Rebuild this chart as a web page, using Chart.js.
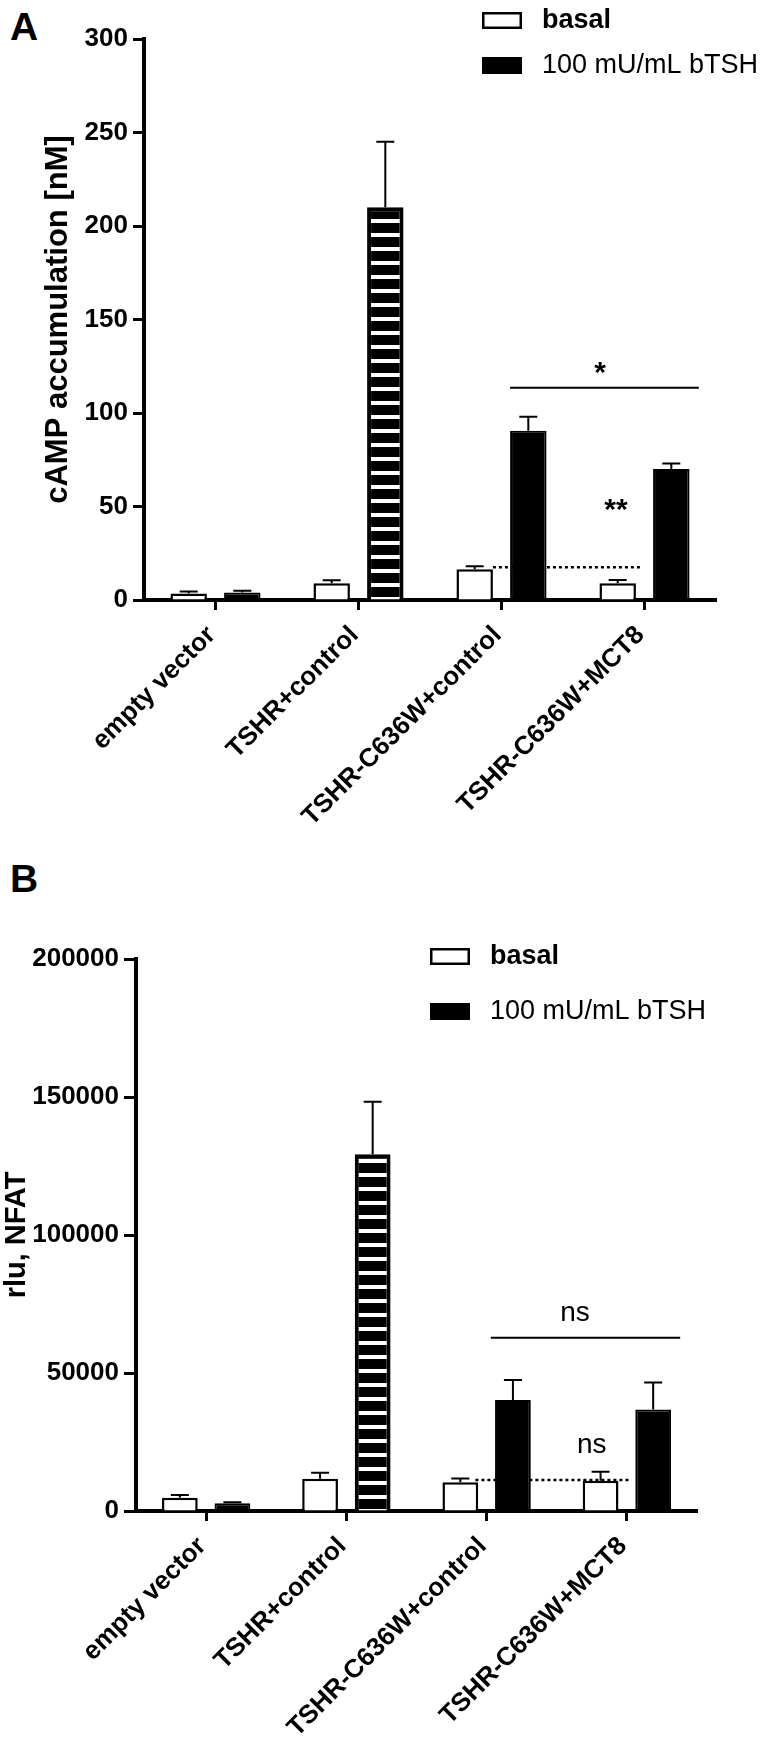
<!DOCTYPE html>
<html><head><meta charset="utf-8">
<script src="https://cdn.jsdelivr.net/npm/chart.js@4.4.0/dist/chart.umd.min.js"></script>
<style>
html,body{margin:0;padding:0;background:#fff;}
body{width:774px;height:1741px;position:relative;overflow:hidden;font-family:"Liberation Sans",Arial,Helvetica,sans-serif;}
canvas{position:absolute;left:0;}
.pl{position:absolute;left:10px;font:bold 39px/39px "Liberation Sans",Arial,sans-serif;color:#000;}
</style></head><body>
<div class="pl" style="top:7px">A</div>
<div class="pl" style="top:859px">B</div>
<canvas id="cA" width="774" height="860" style="top:0"></canvas>
<canvas id="cB" width="774" height="871" style="top:870px"></canvas>
<script>
// ---------- data ----------
const categories = ['empty vector', 'TSHR+control', 'TSHR-C636W+control', 'TSHR-C636W+MCT8'];
const seriesNames = ['basal', '100 mU/mL bTSH'];

// Panel A: cAMP accumulation [nM]
const campBasal = [3.5, 9, 16.5, 9];
const campBasalErr = [1, 1.5, 1.5, 1.7];
const campTSH = [4, 210, 90.5, 70];
const campTSHErr = [1, 35, 7.5, 3];
const campTicks = [0, 50, 100, 150, 200, 250, 300];
const campSigLine = [2.06, 3.38, 113.5];          // x from, x to (category index), y value
const campBaseLine = [1.94, 2.97, 17.5];
const campSigText = [['*', 2.69, 124], ['**', 2.80, 51]];

// Panel B: rlu, NFAT
const nfatBasal = [4800, 11700, 10400, 11000];
const nfatBasalErr = [1000, 2200, 1400, 3200];
const nfatTSH = [2800, 129300, 40200, 36800];
const nfatTSHErr = [400, 19000, 7300, 9800];
const nfatTicks = [0, 50000, 100000, 150000, 200000];
const nfatSigLine = [2.03, 3.38, 62800];
const nfatBaseLine = [1.92, 3.03, 11200];
const nfatSigText = [['ns', 2.63, 71700], ['ns', 2.75, 23900]];

// ---------- rendering ----------
const FAM = '"Liberation Sans", Arial, Helvetica, sans-serif';
Chart.defaults.font.family = FAM;
Chart.defaults.color = '#000';

function stripePattern() {
  const c = document.createElement('canvas');
  c.width = 8; c.height = 14;
  const g = c.getContext('2d');
  g.fillStyle = '#000'; g.fillRect(0, 0, 8, 14);
  g.fillStyle = '#fff'; g.fillRect(0, 9, 8, 4);
  return g.createPattern(c, 'repeat');
}

const overlay = {
  id: 'overlay',
  afterDatasetsDraw(chart, args, o) {
    const ctx = chart.ctx, xs = chart.scales.x, ys = chart.scales.y;
    ctx.save();
    ctx.strokeStyle = '#000';
    // error bars (upper only)
    chart.data.datasets.forEach((ds, i) => {
      const meta = chart.getDatasetMeta(i);
      meta.data.forEach((bar, j) => {
        const top = ys.getPixelForValue(ds.data[j]);
        const et = ys.getPixelForValue(ds.data[j] + ds.errors[j]);
        ctx.lineWidth = 2;
        ctx.setLineDash([]);
        ctx.beginPath();
        ctx.moveTo(bar.x, top); ctx.lineTo(bar.x, et);
        ctx.moveTo(bar.x - 9, et); ctx.lineTo(bar.x + 9, et);
        ctx.stroke();
      });
    });
    // significance line
    const sl = o.sigLine;
    ctx.lineWidth = 2;
    ctx.beginPath();
    ctx.moveTo(xs.getPixelForValue(sl[0]), ys.getPixelForValue(sl[2]));
    ctx.lineTo(xs.getPixelForValue(sl[1]), ys.getPixelForValue(sl[2]));
    ctx.stroke();
    // dotted baseline
    const bl = o.baseLine;
    ctx.lineWidth = 2.5;
    ctx.setLineDash([3, 3]);
    ctx.beginPath();
    ctx.moveTo(xs.getPixelForValue(bl[0]), ys.getPixelForValue(bl[2]));
    ctx.lineTo(xs.getPixelForValue(bl[1]), ys.getPixelForValue(bl[2]));
    ctx.stroke();
    ctx.setLineDash([]);
    // significance texts
    o.texts.forEach(t => {
      const bold = t[0].indexOf('*') >= 0;
      ctx.font = (bold ? 'bold 30px ' : '28px ') + FAM;
      ctx.fillStyle = '#000';
      ctx.textAlign = 'center';
      ctx.textBaseline = 'alphabetic';
      const m = ctx.measureText(t[0]);
      const cy = ys.getPixelForValue(t[2]);
      ctx.fillText(t[0], xs.getPixelForValue(t[1]), cy + (m.actualBoundingBoxAscent - m.actualBoundingBoxDescent) / 2);
    });
    // rotated category labels (45 degrees), anchored at each category tick
    ctx.font = 'bold 26px ' + FAM;
    ctx.fillStyle = '#000';
    ctx.textAlign = 'right';
    ctx.textBaseline = 'middle';
    chart.data.labels.forEach((lab, i) => {
      ctx.save();
      ctx.translate(xs.getPixelForValue(i) - 4, chart.chartArea.bottom + 31);
      ctx.rotate(-Math.PI / 4);
      ctx.fillText(lab, 0, 0);
      ctx.restore();
    });
    // legend
    const L = o.legend;
    chart.data.datasets.forEach((ds, i) => {
      const by = L.y + i * L.dy;
      if (i === 0) {
        ctx.fillStyle = '#fff'; ctx.fillRect(L.x, by, 40, 17);
        ctx.lineWidth = 2.5; ctx.strokeStyle = '#000';
        ctx.strokeRect(L.x + 1.25, by + 1.25, 37.5, 14.5);
      } else {
        ctx.fillStyle = '#000'; ctx.fillRect(L.x, by, 40, 17);
      }
      ctx.fillStyle = '#000';
      ctx.font = (i === 0 ? 'bold ' : '') + '27px ' + FAM;
      ctx.textAlign = 'left';
      ctx.textBaseline = 'middle';
      ctx.fillText(ds.label, L.x + 60, by + 9);
    });
    ctx.restore();
  }
};

function makeChart(id, cfg) {
  const stripe = stripePattern();
  return new Chart(document.getElementById(id), {
    type: 'bar',
    data: {
      labels: categories,
      datasets: [
        { label: seriesNames[0], data: cfg.basal, errors: cfg.basalErr,
          backgroundColor: '#fff', borderColor: '#000', borderWidth: 2.5 },
        { label: seriesNames[1], data: cfg.tsh, errors: cfg.tshErr,
          backgroundColor: ['#000', stripe, '#000', '#000'], borderColor: '#000', borderWidth: [2, 4, 2, 2] }
      ]
    },
    options: {
      responsive: false, animation: false, devicePixelRatio: 1,
      layout: { autoPadding: false, padding: { left: 0, top: cfg.top, right: cfg.right, bottom: 0 } },
      datasets: { bar: { categoryPercentage: 0.75, barPercentage: 0.68 } },
      plugins: {
        legend: { display: false }, tooltip: { enabled: false },
        overlay: { sigLine: cfg.sigLine, baseLine: cfg.baseLine, texts: cfg.texts, legend: cfg.legend }
      },
      scales: {
        x: {
          offset: true,
          grid: { offset: false, drawOnChartArea: false, drawTicks: true, tickLength: 10, tickWidth: 3, tickColor: '#000' },
          border: { display: true, width: 4, color: '#000' },
          ticks: { display: false, autoSkip: false },
          afterFit(s) { s.height = cfg.xh; }
        },
        y: {
          min: 0, max: cfg.ticks[cfg.ticks.length - 1],
          afterBuildTicks(s) { s.ticks = cfg.ticks.map(v => ({ value: v })); },
          grid: { drawOnChartArea: false, tickLength: cfg.tl, tickWidth: 3, tickColor: '#000' },
          border: { display: true, width: 4, color: '#000' },
          ticks: { color: '#000', padding: 5, font: { size: 26, weight: 'bold' }, callback: v => String(v) },
          title: { display: true, text: cfg.ytitle, color: '#000', align: 'center',
                   font: { size: cfg.tsize, weight: 'bold' }, padding: { top: cfg.tpad, bottom: 0 } },
          afterFit(s) { s.width = cfg.yw; }
        }
      }
    },
    plugins: [overlay]
  });
}

makeChart('cA', {
  basal: campBasal, basalErr: campBasalErr, tsh: campTSH, tshErr: campTSHErr, ticks: campTicks,
  sigLine: campSigLine, baseLine: campBaseLine, texts: campSigText,
  ytitle: 'cAMP accumulation [nM]', top: 39, right: 58, xh: 260, yw: 144, tl: 11, tpad: 40, tsize: 31,
  legend: { x: 482, y: 12, dy: 45 }
});
makeChart('cB', {
  basal: nfatBasal, basalErr: nfatBasalErr, tsh: nfatTSH, tshErr: nfatTSHErr, ticks: nfatTicks,
  sigLine: nfatSigLine, baseLine: nfatBaseLine, texts: nfatSigText,
  ytitle: 'rlu, NFAT', top: 89, right: 77, xh: 230, yw: 136, tl: 12, tpad: 0, tsize: 29,
  legend: { x: 430, y: 78, dy: 55 }
});
</script>
</body></html>
